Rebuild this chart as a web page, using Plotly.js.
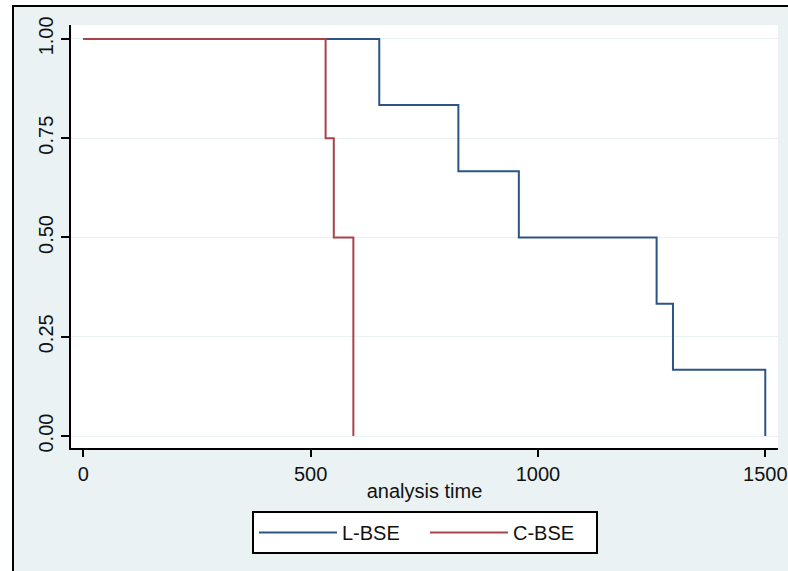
<!DOCTYPE html>
<html>
<head>
<meta charset="utf-8">
<script src="https://cdn.plot.ly/plotly-3.0.1.min.js"></script>
<style>
  html, body { margin:0; padding:0; background:#ffffff; width:788px; height:571px; overflow:hidden; }
  #frame { position:absolute; left:12px; top:5px; width:776px; height:566px;
           border-left:2px solid #000; border-top:2px solid #000; background:#EAF2F3; }
  #chart { position:absolute; left:0; top:0; width:774px; height:564px; }
</style>
</head>
<body>
<div id="frame"><div id="chart"></div></div>
<script>
// Kaplan-Meier survival estimates
const lbseTime = [0, 651, 825, 958, 1261, 1297, 1500];
const lbseSurv = [1, 0.8333, 0.6667, 0.5, 0.3333, 0.1667, 0];
const cbseTime = [0, 533, 551, 594];
const cbseSurv = [1, 0.75, 0.5, 0];
const yTicks = [0, 0.25, 0.5, 0.75, 1];
const yTickText = ['0.00', '0.25', '0.50', '0.75', '1.00'];
const xTicks = [0, 500, 1000, 1500];
const xTickText = ['0', '500', '1000', '1500'];

const FONT = '"Liberation Sans", Arial, sans-serif';

const traces = [
  { x: lbseTime, y: lbseSurv, name: 'L-BSE', mode: 'lines', type: 'scatter',
    line: { shape: 'hv', color: '#2c5585', width: 2 } },
  { x: cbseTime, y: cbseSurv, name: 'C-BSE', mode: 'lines', type: 'scatter',
    line: { shape: 'hv', color: '#a8434c', width: 2 } }
];

const layout = {
  width: 774, height: 564,
  margin: { l: 57, r: 10, t: 18, b: 123 },
  paper_bgcolor: '#EAF2F3',
  plot_bgcolor: '#ffffff',
  font: { family: FONT, size: 20, color: '#111' },
  showlegend: true,
  xaxis: {
    range: [-27, 1528],
    tickvals: xTicks, ticktext: xTickText,
    ticks: 'outside', ticklen: 7, tickwidth: 2, tickcolor: '#000',
    showline: true, linecolor: '#000', linewidth: 2,
    showgrid: false, zeroline: false,
    tickfont: { family: FONT, size: 20, color: '#111' },
    title: { text: 'analysis time', standoff: 0, font: { family: FONT, size: 20, color: '#111' } }
  },
  yaxis: {
    range: [-0.030, 1.035],
    tickvals: yTicks, ticktext: yTickText,
    ticks: 'outside', ticklen: 8, tickwidth: 2, tickcolor: '#000',
    tickangle: -90,
    showline: true, linecolor: '#000', linewidth: 2,
    showgrid: true, gridcolor: '#EAF2F3', gridwidth: 1,
    zeroline: false,
    tickfont: { family: FONT, size: 20, color: '#111' }
  },
  legend: {
    orientation: 'h', x: 0.5007, xanchor: 'center', y: -0.149, yanchor: 'top',
    bgcolor: '#ffffff', bordercolor: '#000', borderwidth: 2,
    itemwidth: 78, entrywidth: 78,
    font: { family: FONT, size: 20, color: '#111' }
  }
};

Plotly.newPlot('chart', traces, layout, { displayModeBar: false, staticPlot: true });
</script>
</body>
</html>
